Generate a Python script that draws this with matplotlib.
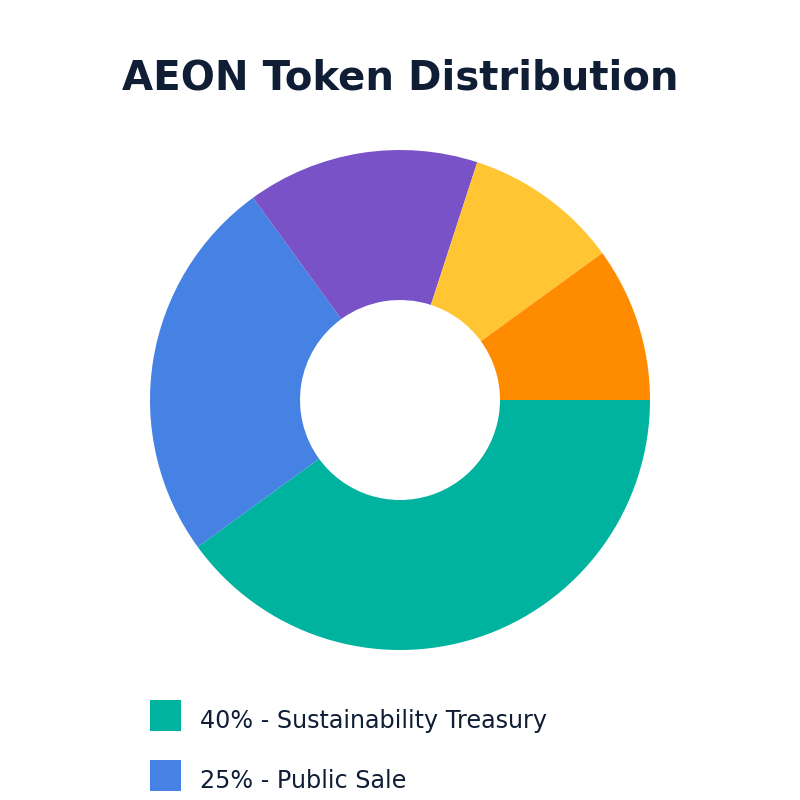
import matplotlib
matplotlib.use("Agg")
import matplotlib.pyplot as plt
from matplotlib.patches import Rectangle

# Доли распределения токенов
labels = ["Sustainability Treasury", "Public Sale", "Team & Advisors",
          "Ecosystem Growth", "Liquidity"]
shares = [40, 25, 15, 10, 10]
colors = ["#00b39f", "#4682e4", "#7952c8", "#ffc533", "#ff8c00"]

text_color = "#0f1d35"
W, H = 800, 800

fig = plt.figure(figsize=(8, 8), dpi=100)
fig.patch.set_facecolor("white")

ax = fig.add_axes([0.1875, 0.1875, 0.625, 0.625])
ax.pie(shares, colors=colors, startangle=0, counterclock=False, radius=1,
       wedgeprops=dict(width=0.6, linewidth=0))
ax.set_xlim(-1, 1)
ax.set_ylim(-1, 1)
ax.set_aspect("equal")
ax.axis("off")

fig.text(0.5, 1 - 90 / H, "AEON Token Distribution", ha="center",
         va="baseline", fontsize=29, fontweight="bold", color=text_color)

# Легенда вручную: квадрат + подпись, шаг 60 px
for i, (s, l, c) in enumerate(zip(shares, labels, colors)):
    top = 700 + 60 * i
    fig.patches.append(Rectangle((150 / W, 1 - (top + 31) / H), 31 / W, 31 / H,
                                 transform=fig.transFigure, facecolor=c,
                                 edgecolor="none"))
    fig.text(200 / W, 1 - (top + 28) / H, f"{s}% - {l}", ha="left",
             va="baseline", fontsize=17.2, color=text_color)

fig.savefig("out.png", dpi=100, facecolor="white")
